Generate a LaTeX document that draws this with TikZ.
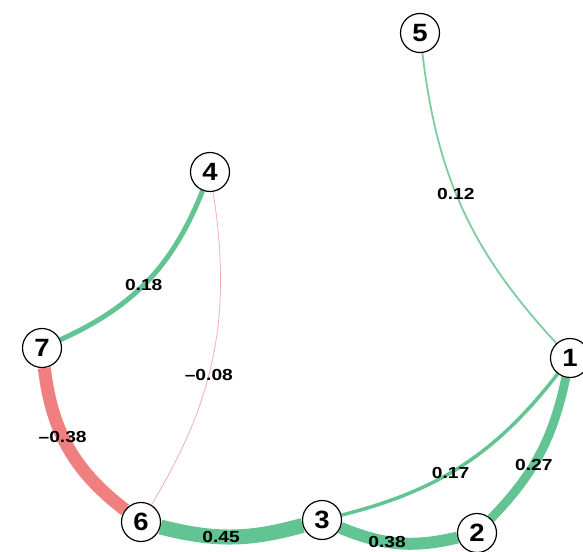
\documentclass[tikz,border=0pt]{standalone}
\usepackage{fontspec}
\setmainfont{Liberation Sans}
\newfontfamily\varfont[FakeStretch=1.1]{Liberation Sans}
\newfontfamily\wtfont[FakeStretch=1.2]{Liberation Sans}
\definecolor{pgreen}{RGB}{98,196,146}
\definecolor{lgreen}{RGB}{125,205,160}
\definecolor{nred}{RGB}{240,128,128}
\definecolor{lred}{RGB}{245,175,175}
\pgfdeclarelayer{back}
\pgfsetlayers{back,main}

\begin{document}
\begin{tikzpicture}[x=1pt,y=-1pt,
  var/.style={circle,draw=black,line width=1.2pt,fill=white,minimum size=39pt,inner sep=0pt,
    font=\varfont\bfseries\fontsize{25}{25}\selectfont},
  wt/.style={font=\wtfont\bfseries\fontsize{16}{16}\selectfont,text=black,inner sep=0pt},
  poslink/.style={draw=pgreen},
  neglink/.style={draw=nred}]
\useasboundingbox (0,0) rectangle (583,551);
% variables
\node[var] (n5) at (420,33) {5};
\node[var] (n4) at (210,172) {4};
\node[var] (n7) at (42,348) {7};
\node[var] (n1) at (570,358) {1};
\node[var] (n6) at (141,522) {6};
\node[var] (n3) at (322,520) {3};
\node[var] (n2) at (477,533) {2};
% weighted links
\begin{pgfonlayer}{back}
\draw[poslink,draw=lgreen,line width=1.8pt] (n1) to[bend left=18] node[wt,pos=0.56]{0.12} (n5);
\draw[poslink,line width=5pt] (n4) to[bend left=22] node[wt,pos=0.53]{0.18} (n7);
\draw[neglink,draw=lred,line width=0.8pt] (n4) to[bend left=20] node[wt,pos=0.57]{–0.08} (n6);
\draw[neglink,line width=13pt] (n6) to[bend left=23] node[wt,pos=0.58]{–0.38} (n7);
\draw[poslink,line width=15pt] (n3) to[bend left=15] node[wt,pos=0.58]{0.45} (n6);
\draw[poslink,line width=12pt] (n2) to[bend left=18] node[wt,pos=0.6]{0.38} (n3);
\draw[poslink,line width=9pt] (n1) to[bend left=16] node[wt,pos=0.58]{0.27} (n2);
\draw[poslink,line width=3.5pt] (n1) to[bend left=19] node[wt,pos=0.56]{0.17} (n3);
\end{pgfonlayer}
\end{tikzpicture}
\end{document}
